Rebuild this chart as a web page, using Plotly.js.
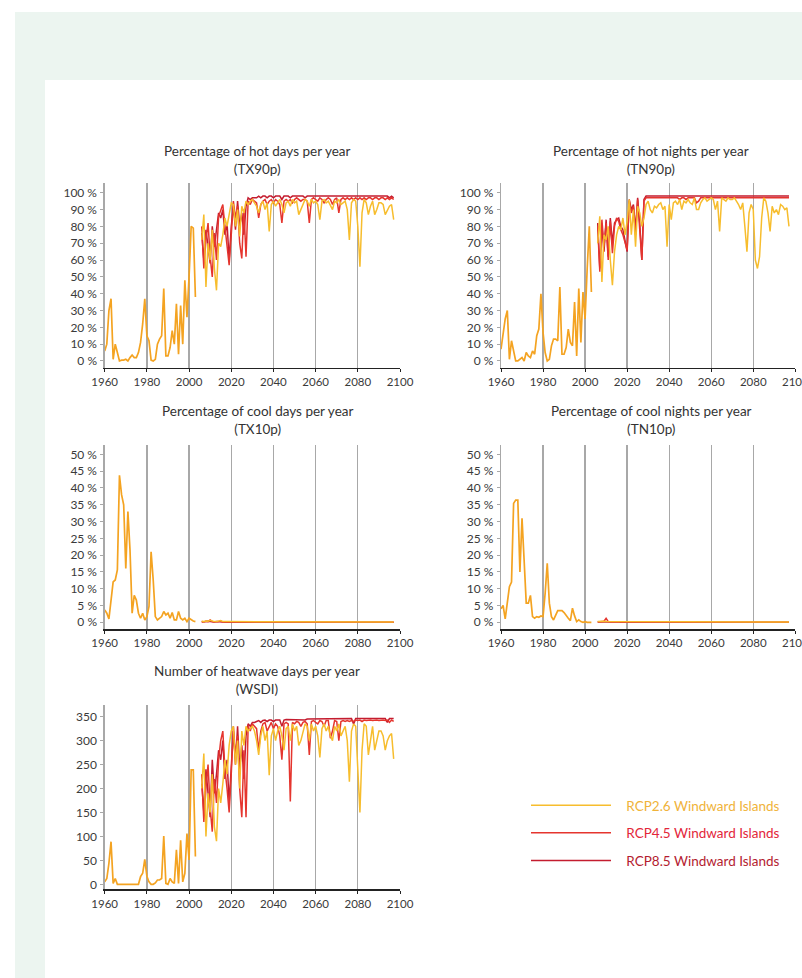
<!DOCTYPE html>
<html><head><meta charset="utf-8">
<script src="https://cdn.plot.ly/plotly-3.0.1.min.js"></script>
<style>
html,body{margin:0;padding:0;width:802px;height:978px;overflow:hidden;background:#fff;}
#bg1{position:absolute;left:15px;top:12px;right:0;bottom:0;background:#ecf5f0;}
#bg2{position:absolute;left:45px;top:80px;right:0;bottom:0;background:#fff;}
#chart{position:absolute;left:0;top:0;width:830px;height:978px;}
</style></head><body>
<div id="bg1"></div><div id="bg2"></div><div id="chart"></div>
<script>
// ---------- categories ----------
const histStart = 1960, histEnd = 2003;
const projStart = 2006, projEnd = 2097;
const xTicks = [1960,1980,2000,2020,2040,2060,2080,2100];
const pctTicks100 = [0,10,20,30,40,50,60,70,80,90,100];
const pctTicks50 = [0,5,10,15,20,25,30,35,40,45,50];
const dayTicks = [0,50,100,150,200,250,300,350];
const seriesNames = ['RCP2.6 Windward Islands','RCP4.5 Windward Islands','RCP8.5 Windward Islands'];
const panelTitles = [
  'Percentage of hot days per year<br>(TX90p)',
  'Percentage of hot nights per year<br>(TN90p)',
  'Percentage of cool days per year<br>(TX10p)',
  'Percentage of cool nights per year<br>(TN10p)',
  'Number of heatwave days per year<br>(WSDI)'
];

// ---------- TX90p ----------
const tx90pHist = [6,10,30,37,1,10,5,0,0.5,0.5, 1,0,2,3.5,2,2,5,11,22,37, 15,12,0.5,0,1,10,13,15,43,3, 3,8,18,10,34,4,33,10,48,26, 50,80,79,38];
const tx90pRcp26 = [
 72,87,44,70,60,78,55,42,70,68,
 75,85,80,88,94,93,80,90,74,92,
 88,95,93,95,96,94,92,88,93,95,
 90,94,77,93,95,92,94,96,93,88,
 94,95,92,96,94,95,87,90,94,96,
 95,92,96,94,95,93,84,95,96,94,
 95,92,90,95,94,96,93,94,95,90,
 72,94,96,95,80,56,88,96,94,87,
 92,95,87,90,94,94,93,87,90,92,
 93,84];
const tx90pRcp45 = [
 80,55,72,82,62,50,76,60,86,90,
 93,80,70,57,75,95,85,92,70,61,
 90,62,95,93,96,95,94,85,93,95,
 96,93,95,96,94,96,95,93,82,95,
 96,95,96,94,96,97,96,95,96,96,
 95,82,96,97,96,95,97,96,94,96,
 97,96,93,96,97,88,96,97,96,97,
 96,97,96,97,96,97,96,97,96,97,
 97,96,97,97,96,97,97,96,97,96,
 97,96];
const tx90pRcp85 = [
 76,60,78,66,58,80,68,78,88,85,
 90,75,82,60,80,92,78,95,80,88,
 75,92,97,96,97,97,97,98,97,98,
 98,97,98,98,97,98,98,98,96,98,
 98,98,97,98,98,98,98,98,98,97,
 98,98,98,98,98,98,98,98,98,98,
 98,98,98,98,98,98,98,98,98,98,
 98,98,98,98,98,98,98,98,98,98,
 98,98,98,98,98,98,98,98,98,97,
 98,97];

// ---------- TN90p ----------
const tn90pHist = [7,17,25,30,1,12,5,0,0,1, 2,0,5,3,2,6,4,15,19,40, 17,5,0,1,9,13,13,12,44,4, 4,8,19,11,9,35,3,43,11,41, 25,55,80,41];
const tn90pRcp26 = [
 70,86,47,75,72,80,60,45,65,75,
 80,78,85,75,83,96,75,90,68,92,
 88,80,85,93,95,90,88,92,91,93,
 94,90,92,68,93,84,94,95,93,96,
 90,95,94,96,94,93,97,90,90,94,
 96,97,95,96,97,96,90,95,77,97,
 96,95,97,96,96,97,95,93,90,94,
 80,65,88,93,90,60,55,62,85,97,
 95,88,77,92,88,90,87,93,92,90,
 91,80];
const tn90pRcp45 = [
 80,53,84,68,82,60,83,64,80,85,
 83,78,75,70,66,95,88,92,75,96,
 80,60,95,97,97,97,97,97,97,97,
 97,97,97,97,97,97,97,97,97,96,
 97,97,96,97,97,97,97,94,95,97,
 97,97,97,97,97,97,97,97,97,97,
 97,97,97,97,97,97,97,97,97,97,
 97,97,97,97,97,97,97,97,97,97,
 97,97,97,97,97,97,97,97,97,97,
 97,97];
const tn90pRcp85 = [
 82,55,80,65,84,62,85,70,82,84,
 85,80,78,72,65,96,90,93,78,97,
 82,60,96,98,98,98,98,98,98,98,
 98,98,98,98,98,98,98,98,98,98,
 98,98,98,98,98,98,98,98,98,98,
 98,98,98,98,98,98,98,98,98,98,
 98,98,98,98,98,98,98,98,98,98,
 98,98,98,98,98,98,98,98,98,98,
 98,98,98,98,98,98,98,98,98,98,
 98,98];

// ---------- TX10p ----------
const tx10pHist = [3.7,2.7,1,6.6,12,12.6,15.6,43.8,38,35, 16,33,21.5,2.7,8,6.6,2.7,1.2,2.7,0.7, 1.7,4.7,21,12.6,1.7,0.7,1.2,1.7,3.2,2.2, 2.7,1.2,2.9,0.7,0.7,3.2,1.2,0.7,1.2,0.2, 1.2,0.7,0.4,0.2];
const tx10pRcp26 = [
 0.3,0.2,0.4,0.3,0.6,0.3,0.2,0.2,0.3,0.5,
 0.2,0.3,0.2,0.2,0.2,0.1,0.2,0.1,0.2,0.1,
 0.1,0.1,0.2,0.1,0.1,0.1,0.1,0.1,0.1,0.1,
 0.1,0.1,0.1,0.1,0.1,0.1,0.1,0.1,0.1,0.1,
 0.1,0.1,0.1,0.1,0.1,0.1,0.1,0.1,0.1,0.1,
 0.1,0.1,0.1,0.1,0.1,0.1,0.1,0.1,0.1,0.1,
 0.1,0.1,0.1,0.1,0.1,0.1,0.1,0.1,0.1,0.1,
 0.1,0.1,0.1,0.1,0.1,0.1,0.1,0.1,0.1,0.1,
 0.1,0.1,0.1,0.1,0.1,0.1,0.1,0.1,0.1,0.1,
 0.1,0.1];
const tx10pRcp45 = [
 0.2,0.1,0.3,0.2,0.7,0.2,0.1,0.1,0.2,0.4,
 0.1,0.1,0.2,0.1,0.1,0.1,0.1,0.1,0.1,0.1,
 0.1,0.1,0.1,0.0,0.0,0.0,0.0,0.0,0.0,0.0,
 0.0,0.0,0.0,0.0,0.0,0.0,0.0,0.0,0.0,0.0,
 0.0,0.0,0.0,0.0,0.0,0.0,0.0,0.0,0.0,0.0,
 0.0,0.0,0.0,0.0,0.0,0.0,0.0,0.0,0.0,0.0,
 0.0,0.0,0.0,0.0,0.0,0.0,0.0,0.0,0.0,0.0,
 0.0,0.0,0.0,0.0,0.0,0.0,0.0,0.0,0.0,0.0,
 0.0,0.0,0.0,0.0,0.0,0.0,0.0,0.0,0.0,0.0,
 0.0,0.0];
const tx10pRcp85 = [
 0.1,0.2,0.1,0.3,0.2,0.1,0.1,0.2,0.1,0.1,
 0.1,0.0,0.1,0.0,0.1,0.0,0.0,0.0,0.0,0.0,
 0.0,0.0,0.0,0.0,0.0,0.0,0.0,0.0,0.0,0.0,
 0.0,0.0,0.0,0.0,0.0,0.0,0.0,0.0,0.0,0.0,
 0.0,0.0,0.0,0.0,0.0,0.0,0.0,0.0,0.0,0.0,
 0.0,0.0,0.0,0.0,0.0,0.0,0.0,0.0,0.0,0.0,
 0.0,0.0,0.0,0.0,0.0,0.0,0.0,0.0,0.0,0.0,
 0.0,0.0,0.0,0.0,0.0,0.0,0.0,0.0,0.0,0.0,
 0.0,0.0,0.0,0.0,0.0,0.0,0.0,0.0,0.0,0.0,
 0.0,0.0];

// ---------- TN10p ----------
const tn10pHist = [4,5,1,6.6,10.6,12,35.4,36.4,36.4,15, 31,18.5,5.7,5.7,8,1.7,1.2,1.7,1.5,1.9, 1.7,8.6,17.6,5.7,1.7,0.7,2.2,3.5,3.5,3.5, 2.9,1.9,1.2,0.5,4.2,1.9,0.2,0.7,0.2,0, 0.2,0,0.1,0];
const tn10pRcp26 = [
 0.2,0.3,0.2,0.3,0.2,0.2,0.3,0.2,0.2,0.2,
 0.2,0.2,0.1,0.2,0.3,0.2,0.1,0.2,0.1,0.1,
 0.1,0.1,0.1,0.1,0.1,0.1,0.1,0.1,0.1,0.1,
 0.1,0.1,0.1,0.1,0.1,0.1,0.1,0.1,0.1,0.1,
 0.1,0.1,0.1,0.1,0.1,0.1,0.1,0.2,0.1,0.1,
 0.1,0.1,0.1,0.1,0.1,0.1,0.1,0.1,0.1,0.1,
 0.1,0.1,0.1,0.1,0.1,0.1,0.1,0.1,0.1,0.1,
 0.1,0.1,0.1,0.1,0.1,0.1,0.1,0.1,0.1,0.1,
 0.1,0.1,0.1,0.1,0.1,0.1,0.1,0.1,0.1,0.1,
 0.1,0.1];
const tn10pRcp45 = [
 0.1,0.2,0.1,0.3,1.2,0.2,0.1,0.1,0.2,0.1,
 0.1,0.1,0.1,0.1,0.1,0.0,0.1,0.0,0.0,0.0,
 0.0,0.0,0.0,0.0,0.0,0.0,0.0,0.0,0.0,0.0,
 0.0,0.0,0.0,0.0,0.0,0.0,0.0,0.0,0.0,0.0,
 0.0,0.0,0.0,0.0,0.0,0.0,0.0,0.2,0.0,0.0,
 0.0,0.0,0.0,0.0,0.0,0.0,0.0,0.0,0.0,0.0,
 0.0,0.0,0.0,0.0,0.0,0.0,0.0,0.0,0.0,0.0,
 0.0,0.0,0.0,0.0,0.0,0.0,0.0,0.0,0.0,0.0,
 0.0,0.0,0.0,0.0,0.0,0.0,0.0,0.0,0.0,0.0,
 0.0,0.0];
const tn10pRcp85 = [
 0.1,0.1,0.2,0.1,0.3,0.1,0.1,0.1,0.1,0.1,
 0.1,0.0,0.0,0.0,0.1,0.0,0.0,0.0,0.0,0.0,
 0.0,0.0,0.0,0.0,0.0,0.0,0.0,0.0,0.0,0.0,
 0.0,0.0,0.0,0.0,0.0,0.0,0.0,0.0,0.0,0.0,
 0.0,0.0,0.0,0.0,0.0,0.0,0.0,0.0,0.0,0.0,
 0.0,0.0,0.0,0.0,0.0,0.0,0.0,0.0,0.0,0.0,
 0.0,0.0,0.0,0.0,0.0,0.0,0.0,0.0,0.0,0.0,
 0.0,0.0,0.0,0.0,0.0,0.0,0.0,0.0,0.0,0.0,
 0.0,0.0,0.0,0.0,0.0,0.0,0.0,0.0,0.0,0.0,
 0.0,0.0];

// ---------- WSDI ----------
const wsdiHist = [5,12,44,89,2,12,0,0,0,0, 0,0,0,0,0,0,0,16,23,52, 17,5,0,0,3,9,9,12,101,2, 0,12,5,2,72,2,92,5,23,106, 51,239,239,58];
const wsdiRcp26 = [
 200,273,100,190,150,230,120,90,200,170,
 210,260,230,290,320,330,250,300,200,320,
 290,330,320,325,330,320,300,270,310,330,
 300,320,228,310,325,300,320,330,310,280,
 325,330,300,335,320,330,290,300,320,335,
 330,300,335,320,330,310,265,325,335,320,
 330,310,300,330,320,335,310,320,330,300,
 214,320,335,330,250,150,280,335,330,270,
 300,330,280,300,320,320,310,280,300,310,
 315,262];
const wsdiRcp45 = [
 230,130,200,250,160,110,220,170,260,300,
 320,240,200,150,230,330,270,310,200,140,
 280,140,330,320,335,330,325,280,320,335,
 338,320,330,338,325,335,330,310,260,335,
 338,335,173,338,335,340,338,330,338,340,
 335,270,340,342,338,335,342,340,330,342,
 342,305,320,342,340,300,340,342,340,342,
 340,342,340,343,342,343,340,343,342,343,
 343,342,343,343,342,343,343,342,343,338,
 343,340];
const wsdiRcp85 = [
 210,150,240,180,140,260,190,230,280,260,
 300,220,260,170,240,320,250,330,240,290,
 220,310,335,330,338,338,340,342,338,342,
 343,340,343,343,340,343,343,343,330,343,
 344,344,343,344,344,344,344,344,344,343,
 345,345,345,345,345,345,345,345,345,345,
 346,346,346,346,346,346,346,346,346,346,
 346,346,335,346,346,346,346,346,346,346,
 346,346,346,346,346,346,346,346,338,346,
 346,346];

// ---------- build ----------
function years(a, b){ const r=[]; for(let y=a;y<=b;y++) r.push(y); return r; }
const histYears = years(histStart, histEnd);
const projYears = years(projStart, projEnd);

const histColor = '#f4a321';
const colors = ['#f7bd2d','#e5352e','#c41c2f'];
const textColors = ['#f0b33a','#e3263a','#b41c30'];

const panels = [
  {hist: tx90pHist, proj:[tx90pRcp26,tx90pRcp45,tx90pRcp85]},
  {hist: tn90pHist, proj:[tn90pRcp26,tn90pRcp45,tn90pRcp85]},
  {hist: tx10pHist, proj:[tx10pRcp26,tx10pRcp45,tx10pRcp85]},
  {hist: tn10pHist, proj:[tn10pRcp26,tn10pRcp45,tn10pRcp85]},
  {hist: wsdiHist,  proj:[wsdiRcp26,wsdiRcp45,wsdiRcp85]}
];

const drawOrder = [2,1,0]; // RCP8.5 first, RCP2.6 on top
const traces = [];
panels.forEach((p, i) => {
  const xa = i===0 ? 'x' : 'x'+(i+1);
  const ya = i===0 ? 'y' : 'y'+(i+1);
  traces.push({x: histYears, y: p.hist, xaxis: xa, yaxis: ya, type:'scatter', mode:'lines',
    line:{color: histColor, width:1.7}, showlegend:false, hoverinfo:'skip'});
  drawOrder.forEach(k => {
    traces.push({x: projYears, y: p.proj[k], xaxis: xa, yaxis: ya, type:'scatter', mode:'lines',
      name: '<span style="color:'+textColors[k]+'">\u00a0\u00a0\u00a0'+seriesNames[k]+'</span>',
      legendgroup: 'g'+k, legendrank: k+1, showlegend: i===0,
      line:{color: colors[k], width:1.5}, hoverinfo:'skip'});
  });
});

const W = 830, H = 978;
function dx(a,b){ return [a/W, b/W]; }
function dy(top,bottom){ return [1-bottom/H, 1-top/H]; }

const font = 'Lato, "Open Sans", sans-serif';
function xAxis(dom, anchor){
  return {domain: dom, anchor: anchor, range:[1960,2100], tickvals: xTicks, ticktext: xTicks.map(String),
    showgrid:true, gridcolor:'#a8a8a8', gridwidth:1.3, showline:true, linecolor:'#222', linewidth:1.5,
    ticks:'outside', ticklen:3, tickcolor:'#222', tickfont:{size:11.5, color:'#3a3a3a', family:font},
    zeroline:false, fixedrange:true};
}
function yAxis(dom, anchor, range, ticks, suffix){
  return {domain: dom, anchor: anchor, range: range, tickvals: ticks, ticktext: ticks.map(v => v + suffix),
    showgrid:false, showline:true, linecolor:'#a8a8a8', linewidth:1.3, ticks:'outside', ticklen:3,
    tickcolor:'#a8a8a8', ticklabelstandoff:1,
    tickfont:{size:12, color:'#3a3a3a', family:font}, zeroline:false, fixedrange:true};
}

const colL = dx(104.7, 400), colR = dx(501, 795.3);
const row1 = dy(183, 367.7), row2 = dy(445, 629), row3 = dy(705, 889.3);

const layout = {
  width: W, height: H, margin:{l:0,r:0,t:0,b:0},
  paper_bgcolor:'rgba(0,0,0,0)', plot_bgcolor:'rgba(0,0,0,0)',
  font:{family: font, color:'#3a3a3a'},
  xaxis: xAxis(colL,'y'), yaxis: yAxis(row1,'x',[-4,105.8],pctTicks100,' %'),
  xaxis2: xAxis(colR,'y2'), yaxis2: yAxis(row1,'x2',[-4,105.8],pctTicks100,' %'),
  xaxis3: xAxis(colL,'y3'), yaxis3: yAxis(row2,'x3',[-2,52.8],pctTicks50,' %'),
  xaxis4: xAxis(colR,'y4'), yaxis4: yAxis(row2,'x4',[-2,52.8],pctTicks50,' %'),
  xaxis5: xAxis(colL,'y5'), yaxis5: yAxis(row3,'x5',[-10.4,374.4],dayTicks,''),
  showlegend:true,
  legend:{x: 526/W, y: 1-790/H, xanchor:'left', yanchor:'top', bgcolor:'rgba(0,0,0,0)',
    font:{size:13.5, family:font}, itemwidth:80, tracegroupgap:7, traceorder:'grouped', itemclick:false},
  annotations: panelTitles.map((t, i) => ({
    text: t, showarrow:false, xref:'paper', yref:'paper', xanchor:'center', yanchor:'middle',
    x: (i%2===0 ? 257 : 651)/W, y: 1 - [160,160,420,420,680][i]/H,
    font:{size:13.5, color:'#333', family:font}, align:'center'
  }))
};

Plotly.newPlot('chart', traces, layout, {staticPlot:true, displayModeBar:false});
</script></body></html>
